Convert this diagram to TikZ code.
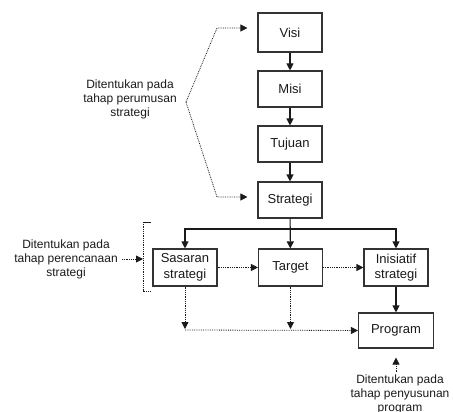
\documentclass[tikz,border=0pt]{standalone}
\usepackage{fontspec}
\setmainfont{Liberation Sans}
\usepackage{xcolor}
\usetikzlibrary{arrows.meta,calc}
\definecolor{ink}{HTML}{1A1A1A}
\definecolor{frame}{HTML}{333333}
\tikzset{
  box/.style={draw=frame, line width=1.1pt, fill=white, minimum width=64pt,
    minimum height=36pt, inner sep=0pt, align=center, text=ink,
    font=\fontsize{13}{15.5}\selectfont},
  arr/.style={draw=ink, line width=1.1pt, -{Triangle[length=7pt,width=7pt]}},
  dotarr/.style={draw=ink, line width=0.8pt, densely dotted,
    -{Triangle[length=7pt,width=7pt]}},
  dotln/.style={draw=ink, line width=0.8pt, densely dotted},
  labs/.style={align=center, text=ink, inner sep=0pt,
    font=\fontsize{12}{14}\selectfont}
}

\begin{document}
\begin{tikzpicture}[x=1pt,y=-1pt]
  \useasboundingbox (0,0) rectangle (453,412);

  \node[box,minimum height=39pt] (visi) at (290,32.5) {Visi};
  \node[box] (misi) at (290,89) {Misi};
  \node[box] (tujuan) at (290,144) {Tujuan};
  \node[box] (strategi) at (290,200) {Strategi};
  \node[box,minimum height=37pt] (sasaran) at (185,267.5) {Sasaran\\strategi};
  \node[box,minimum height=37pt] (target) at (290.5,267.5) {Target};
  \node[box,minimum height=37pt] (inisiatif) at (396,267.5) {Inisiatif\\strategi};
  \node[box,minimum width=75pt,minimum height=35pt] (program) at (396,330.5) {Program};

  \draw[arr] (visi) -- (misi);
  \draw[arr] (misi) -- (tujuan);
  \draw[arr] (tujuan) -- (strategi);
  \coordinate (br) at (290,229);
  \draw[arr] (strategi) -- (target);
  \draw[arr] (br) -| (sasaran.north);
  \draw[arr] (br) -| (inisiatif.north);
  \draw[arr] (inisiatif) -- (program);

  \draw[dotarr] (sasaran) -- (target);
  \draw[dotarr] (target) -- (inisiatif);
  \coordinate (jl) at (185,330);
  \coordinate (jm) at (290.5,330);
  \draw[dotarr, shorten >=1pt] (sasaran.south) -- (jl);
  \draw[dotarr, shorten >=1pt] (target.south) -- (jm);
  \draw[dotarr] (jl) -- (program.west);

  % side notes with their dotted pointers
  \node[labs] (perumusan) at (130,99) {Ditentukan pada\\tahap perumusan\\strategi};
  \coordinate (ua) at (217,28);
  \coordinate (ub) at (186,102);
  \coordinate (uc) at (217,197);
  \draw[dotarr, shorten >=10pt] (ub) -- (ua) -- (ua -| visi.west);
  \draw[dotarr, shorten >=10pt] (ub) -- (uc) -- (uc -| strategi.west);

  \node[labs] (perencanaan) at (66,259) {Ditentukan pada\\tahap perencanaan\\strategi};
  \coordinate (bt) at (143,222);
  \coordinate (bb) at (143,291);
  \draw[draw=ink, line width=0.8pt] (bt) -- ++(8,0);
  \draw[dotln] (bt) -- (bb) -- ++(7,0);
  \draw[dotarr, shorten <=4pt] (perencanaan.east) -- (perencanaan.east -| bt);

  \node[labs] (penyusunan) at (400,394) {Ditentukan pada\\tahap penyusunan\\program};
  \draw[dotarr, shorten <=2pt, shorten >=9pt] (program.south |- penyusunan.north) -- (program.south);
\end{tikzpicture}
\end{document}
